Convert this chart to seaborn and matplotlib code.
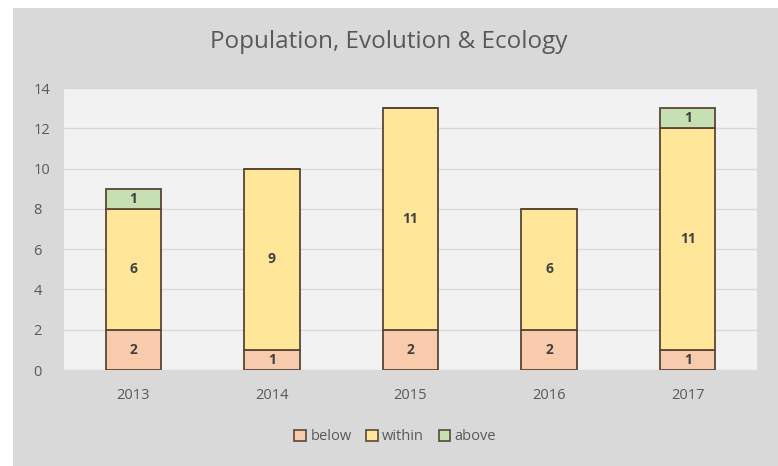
import matplotlib
matplotlib.use("Agg")
import matplotlib.pyplot as plt
import seaborn as sns
import numpy as np
from matplotlib.patches import Rectangle, Patch

sns.set_style("white")
plt.rcParams["font.family"] = ["Open Sans", "DejaVu Sans"]

years = ["2013", "2014", "2015", "2016", "2017"]
below = [2, 1, 2, 2, 1]
within = [6, 9, 11, 6, 11]
above = [1, 0, 0, 0, 1]

series = [("below", below, "#f8cbad"), ("within", within, "#ffe699"), ("above", above, "#c6e0b4")]
edge = "#5b4636"
text_gray = "#595959"

fig = plt.figure(figsize=(7.78, 4.66), dpi=100)
fig.patch.set_facecolor("white")
fig.add_artist(Rectangle((13 / 778, 0), 1 - 13 / 778, 1 - 8 / 466,
                         transform=fig.transFigure, facecolor="#d9d9d9",
                         edgecolor="none", zorder=0))

ax = fig.add_axes([64 / 778, 1 - 370 / 466, 693 / 778, 282 / 466])
ax.set_facecolor("#f2f2f2")

bottom = np.zeros(len(years))
for name, vals, col in series:
    vals = np.array(vals, dtype=float)
    sns.barplot(x=years, y=vals, bottom=bottom, color=col, saturation=1, width=0.4,
                edgecolor=edge, linewidth=1.3, ax=ax, zorder=3)
    for i, v in enumerate(vals):
        if v > 0:
            ax.text(i, bottom[i] + v / 2, f"{int(v)}", ha="center", va="center",
                    fontsize=10, fontweight="bold", color="#404040", zorder=4)
    bottom += vals

ax.set_ylim(0, 14)
ax.set_yticks(range(0, 15, 2))
ax.set_xlim(-0.5, len(years) - 0.5)
ax.yaxis.grid(True, color="#d9d9d9", linewidth=1, zorder=0)
ax.set_axisbelow(True)
for s in ax.spines.values():
    s.set_visible(False)
ax.tick_params(axis="both", length=0, labelsize=10.5, labelcolor=text_gray)
ax.tick_params(axis="x", pad=13)
ax.tick_params(axis="y", pad=22)
for lbl in ax.get_yticklabels():
    lbl.set_horizontalalignment("left")
ax.set_xlabel("")
ax.set_ylabel("")

fig.text(0.5, 1 - 42 / 466, "Population, Evolution & Ecology", ha="center", va="center",
         fontsize=17.5, color=text_gray)

handles = [Patch(facecolor=c, edgecolor=edge, linewidth=1.2, label=n) for n, _, c in series]
fig.legend(handles=handles, loc="center", bbox_to_anchor=(0.508, 1 - 437 / 466), ncol=3,
           frameon=False, fontsize=10.5, handlelength=0.8, handleheight=0.8,
           handletextpad=0.3, columnspacing=1.0, labelcolor=text_gray)

fig.savefig("out.png", dpi=100, facecolor=fig.get_facecolor())
